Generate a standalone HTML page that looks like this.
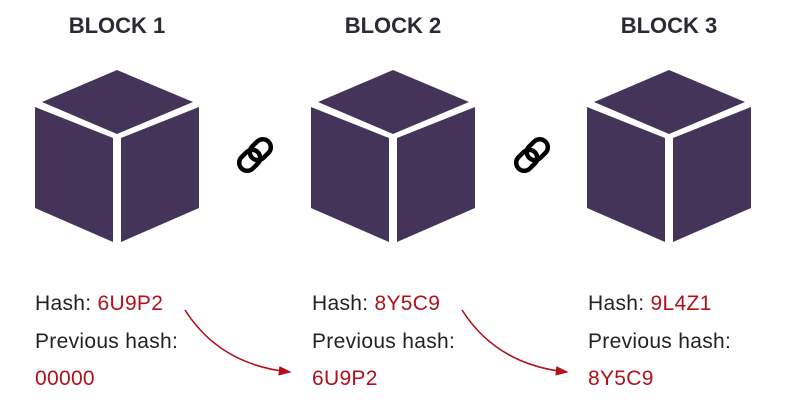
<html><head><style>
body{margin:0;width:788px;height:404px;background:#fff;position:relative;overflow:hidden;font-family:"Liberation Sans",sans-serif}
.t{position:absolute;font-weight:bold;font-size:22px;color:#2b2b33;top:13px;width:200px;text-align:center}
.l{position:absolute;font-size:21px;letter-spacing:0.3px;color:#222;white-space:nowrap}
.r{color:#b0111b}
</style></head><body>
<div class="t" style="left:17px">BLOCK 1</div>
<div class="t" style="left:293px">BLOCK 2</div>
<div class="t" style="left:569px">BLOCK 3</div>
<svg width="788" height="404" style="position:absolute;left:0;top:0">
<defs>
<g id="c" fill="#45345a">
<polygon points="117,70 193,102 117,134 42,102"/>
<polygon points="35,107 113,138 113,242 35,208"/>
<polygon points="121,138 199,107 199,208 121,242"/>
</g>
<g id="k" fill="none" stroke="#000" stroke-width="4.5">
<rect x="-19" y="-8" width="23" height="16" rx="8" transform="rotate(-45)"/>
<rect x="-4" y="-8" width="23" height="16" rx="8" transform="rotate(-45)"/>
</g>
<marker id="a" markerWidth="8" markerHeight="8" refX="7" refY="4" orient="auto"><path d="M0,1 L8,4 L0,7z" fill="#b0111b"/></marker>
</defs>
<use href="#c"/><use href="#c" x="276"/><use href="#c" x="552"/>
<use href="#k" x="255" y="155"/><use href="#k" x="532" y="155"/>
<path d="M185,310 Q220,365 290,372" fill="none" stroke="#b0111b" stroke-width="1.6" marker-end="url(#a)"/>
<path d="M462,310 Q497,365 567,372" fill="none" stroke="#b0111b" stroke-width="1.6" marker-end="url(#a)"/>
</svg>
<div class="l" style="left:35px;top:292px">Hash: <span class="r">6U9P2</span></div>
<div class="l" style="left:35px;top:330px">Previous hash:</div>
<div class="l r" style="left:35px;top:367px">00000</div>
<div class="l" style="left:312px;top:292px">Hash: <span class="r">8Y5C9</span></div>
<div class="l" style="left:312px;top:330px">Previous hash:</div>
<div class="l r" style="left:312px;top:367px">6U9P2</div>
<div class="l" style="left:588px;top:292px">Hash: <span class="r">9L4Z1</span></div>
<div class="l" style="left:588px;top:330px">Previous hash:</div>
<div class="l r" style="left:588px;top:367px">8Y5C9</div>
</body></html>
